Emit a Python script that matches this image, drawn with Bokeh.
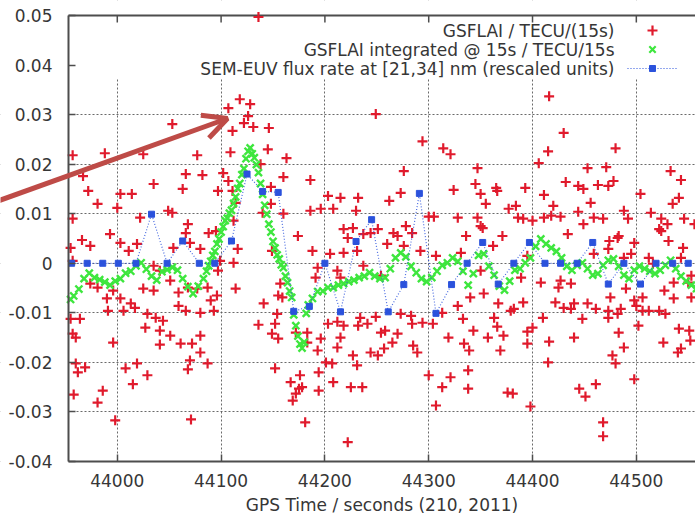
from bokeh.plotting import figure
from bokeh.models import (SingleIntervalTicker, CustomJSTickFormatter,
                          BoxAnnotation, Label, Arrow, OpenHead)
from bokeh.embed import file_html
from bokeh.resources import INLINE

# ---------------------------------------------------------------------------
# Data: GPS time (s of day 210, 2011) and values
# ---------------------------------------------------------------------------

# SEM-EUV flux rate at [21,34] nm (rescaled units), 15 s cadence
sem_t = [43956, 43971, 43986, 44001, 44018, 44033, 44048, 44063, 44079, 44094,
         44110, 44125, 44140, 44155, 44170, 44185, 44200, 44215, 44230, 44245,
         44261, 44276, 44291, 44307, 44322, 44337, 44352, 44367, 44382, 44397,
         44412, 44427, 44443, 44458, 44473, 44488, 44504, 44519, 44535, 44550]
sem_v = [0.0, 0.0, 0.0, 0.0, 0.0, 0.0099, 0.0, 0.0045, 0.0, 0.0,
         0.0045, 0.0180, 0.0145, 0.0143, -0.0097, -0.0087, 0.0, -0.0098, 0.0044, 0.0088,
         -0.0098, -0.0043, 0.0141, -0.0101, -0.0043, 0.0, 0.0042, -0.0042, 0.0, 0.0042,
         0.0, 0.0, 0.0, 0.0042, -0.0042, 0.0, -0.0042, 0.0, 0.0, 0.0]

# GSFLAI integrated @ 15 s / TECU/15s
gsf_int_t = [43955, 43958, 43963, 43968, 43973, 43978, 43983, 43988, 43993, 43998,
             44003, 44008, 44013, 44018, 44023, 44028, 44033, 44038, 44043, 44048,
             44053, 44058, 44063, 44068, 44073, 44078, 44083,
             44086, 44088, 44090, 44092, 44094, 44096, 44098, 44100, 44102, 44104,
             44106, 44108, 44110, 44112, 44114, 44116, 44118, 44120, 44122, 44124,
             44126, 44128, 44130, 44132, 44134, 44136, 44138, 44140, 44142, 44144,
             44146, 44148, 44150, 44152, 44154, 44156, 44158, 44160, 44162, 44164,
             44166, 44168, 44170, 44172, 44174, 44176, 44178, 44180, 44182, 44184,
             44188, 44193, 44198, 44203, 44208, 44213, 44218, 44223, 44228, 44233,
             44238, 44243, 44248, 44253, 44258, 44263, 44268, 44273, 44278, 44283,
             44288, 44293, 44298, 44303, 44308, 44313, 44318, 44323, 44328, 44333,
             44338, 44343, 44348, 44353, 44358, 44363, 44368, 44373, 44378, 44383,
             44388, 44393, 44398, 44403, 44408, 44413, 44418, 44423, 44428, 44433,
             44438, 44443, 44448, 44453, 44458, 44463, 44468, 44473, 44478, 44483,
             44488, 44493, 44498, 44503, 44508, 44513, 44518, 44523, 44528, 44533,
             44538, 44543, 44548, 44553, 44558]
gsf_int_v = [-0.0073, -0.0066, -0.0052, -0.0031, -0.0020, -0.0029, -0.0033, -0.0038, -0.0044, -0.0036,
             -0.0031, -0.0020, -0.0016, -0.0005, 0.0001, -0.0012, -0.0026, -0.0034, -0.0017, -0.0013,
             -0.0008, -0.0014, -0.0031, -0.0047, -0.0061, -0.0046, -0.0031,
             -0.0016, -0.0005, 0.0004, 0.0016, 0.0024, 0.0039, 0.0049, 0.0063, 0.0074, 0.0086,
             0.0091, 0.0101, 0.0107, 0.0121, 0.0134, 0.0151, 0.0161, 0.0179, 0.0191, 0.0211,
             0.0226, 0.0233, 0.0221, 0.0213, 0.0199, 0.0183, 0.0161, 0.0139, 0.0117, 0.0099,
             0.0079, 0.0063, 0.0044, 0.0031, 0.0017, 0.0009, -0.0003, -0.0009, -0.0026, -0.0039,
             -0.0056, -0.0069, -0.0104, -0.0126, -0.0147, -0.0163, -0.0171, -0.0159, -0.0101, -0.0084,
             -0.0071, -0.0057, -0.0056, -0.0049, -0.0049, -0.0044, -0.0041, -0.0037, -0.0034, -0.0029,
             -0.0026, -0.0019, -0.0026, -0.0031, -0.0029, -0.0011, 0.0011, 0.0021, 0.0013, -0.0006,
             -0.0019, -0.0031, -0.0037, -0.0029, -0.0016, -0.0004, 0.0001, 0.0011, 0.0004, -0.0016,
             -0.0044, -0.0021, 0.0016, 0.0019, -0.0006, -0.0024, -0.0046, -0.0054, -0.0036, -0.0014,
             -0.0011, 0.0001, 0.0011, 0.0034, 0.0049, 0.0039, 0.0031, 0.0024, 0.0011, -0.0006,
             -0.0014, -0.0004, 0.0001, -0.0011, -0.0024, -0.0021, -0.0004, 0.0006, 0.0009, -0.0006,
             -0.0024, -0.0031, -0.0014, -0.0006, -0.0011, -0.0016, -0.0021, -0.0014, -0.0004, 0.0006,
             -0.0011, -0.0026, -0.0036, -0.0044, -0.0051]

# GSFLAI / TECU/(15s), grouped by time span
gsf_early_t = [43957, 43967, 43988, 44025, 44053, 44066, 44077, 44082, 44102, 44107,
               44109, 44111, 44107, 44097, 44035, 44063, 43972, 43981, 43957, 43966,
               43974, 43993, 44000, 44003, 44014, 44003, 44011, 44019, 44022, 44049,
               44053, 44054, 44066, 44070, 44068, 44080, 44088, 44095, 44112, 44114,
               44111, 44116, 44099, 44097, 43957, 43981, 43974, 43990, 43996, 44003,
               44013, 44025, 44035, 44041, 44035, 44051, 44059, 44068, 44077, 44087,
               44090, 44096, 43955, 43964, 43991, 44006, 44017, 44029, 44037, 44044,
               44059, 44066, 44080, 44093, 43957, 43960, 43996, 44027, 44041, 44041,
               44051, 44061, 44080, 44072, 43955, 44080, 43960, 43962, 43969, 44008,
               44019, 44029, 44015, 44068, 44070, 44087, 43958, 43986, 43981, 43998,
               44071]
gsf_early_v = [0.0218, 0.0176, 0.0222, 0.0220, 0.0281, 0.0180, 0.0218, 0.0178, 0.0182, 0.0313,
               0.0224, 0.0267, 0.0166, 0.0146, 0.0160, 0.0150, 0.0146, 0.0120, 0.0090, 0.0047,
               0.0035, 0.0059, 0.0112, 0.0140, 0.0140, 0.0041, 0.0025, 0.0039, 0.0092, 0.0106,
               0.0102, 0.0031, 0.0061, 0.0041, 0.0079, 0.0029, 0.0061, 0.0065, 0.0086, 0.0122,
               0.0146, 0.0029, 0.0005, -0.0015, 0.0005, -0.0049, -0.0041, -0.0071, -0.0055, -0.0071,
               -0.0081, -0.0051, -0.0055, -0.0015, -0.0005, -0.0035, -0.0059, -0.0049, -0.0051, -0.0049,
               -0.0075, -0.0065, -0.0112, -0.0112, -0.0096, -0.0096, -0.0090, -0.0102, -0.0110, -0.0116,
               -0.0086, -0.0096, -0.0100, -0.0096, -0.0142, -0.0150, -0.0160, -0.0130, -0.0136, -0.0164,
               -0.0146, -0.0162, -0.0146, -0.0162, 0.0031, -0.0180, -0.0202, -0.0220, -0.0210, -0.0212,
               -0.0202, -0.0226, -0.0244, -0.0214, -0.0196, -0.0202, -0.0265, -0.0257, -0.0281, -0.0317,
               -0.0315]

gsf_flare_t = [44118, 44128, 44126, 44122, 44131, 44146, 44145, 44163, 44160, 44186,
               44138, 44148, 44136, 44249, 44294, 44314, 44321, 44276, 44324, 44203,
               44215, 44232, 44196, 44208, 44230, 44262, 44273, 44300, 44305, 44328,
               44160, 44140, 44148, 44174, 44188, 44218, 44227, 44222, 44231, 44237,
               44244, 44251, 44266, 44270, 44278, 44284, 44260, 44276, 44292, 44307,
               44331, 44218, 44193, 44205, 44112, 44114, 44157, 44159, 44191, 44212,
               44215, 44237, 44254, 44186, 44149]
gsf_flare_v = [0.0331, 0.0321, 0.0297, 0.0283, 0.0275, 0.0273, 0.0230, 0.0212, 0.0174, 0.0168,
               0.0200, 0.0154, 0.0497, 0.0301, 0.0246, 0.0232, 0.0220, 0.0186, 0.0148, 0.0136,
               0.0132, 0.0132, 0.0110, 0.0110, 0.0106, 0.0126, 0.0142, 0.0094, 0.0094, 0.0092,
               0.0100, 0.0102, 0.0120, 0.0055, 0.0025, 0.0069, 0.0071, 0.0051, 0.0025, 0.0059,
               0.0061, 0.0069, 0.0061, 0.0055, 0.0075, 0.0061, 0.0039, 0.0035, 0.0025, 0.0015,
               0.0021, 0.0021, -0.0009, 0.0019, 0.0001, -0.0051, -0.0041, -0.0069, -0.0029, -0.0015,
               -0.0029, -0.0005, -0.0025, 0.0106, 0.0025]

gsf_dip_t = [44155, 44141, 44154, 44136, 44152, 44149, 44155, 44172, 44183, 44196,
             44193, 44203, 44212, 44218, 44234, 44232, 44241, 44249, 44254, 44258,
             44270, 44265, 44273, 44283, 44284, 44294, 44304, 44313, 44319, 44328,
             44334, 44215, 44212, 44227, 44231, 44244, 44251, 44257, 44285, 44289,
             44183, 44152, 44176, 44201, 44207, 44194, 44167, 44175, 44178, 44172,
             44169, 44194, 44208, 44225, 44236, 44181, 44222, 44300, 44313, 44307,
             44321, 44338, 44338]
gsf_dip_v = [-0.0065, -0.0081, -0.0102, -0.0124, -0.0122, -0.0142, -0.0152, -0.0140, -0.0160, -0.0152,
             -0.0176, -0.0122, -0.0118, -0.0126, -0.0110, -0.0126, -0.0122, -0.0108, -0.0140, -0.0136,
             -0.0142, -0.0160, -0.0102, -0.0106, -0.0122, -0.0120, -0.0122, -0.0100, -0.0150, -0.0086,
             -0.0162, -0.0150, -0.0170, -0.0186, -0.0206, -0.0180, -0.0186, -0.0172, -0.0166, -0.0180,
             -0.0140, -0.0212, -0.0226, -0.0200, -0.0202, -0.0220, -0.0240, -0.0253, -0.0250, -0.0263,
             -0.0277, -0.0257, -0.0240, -0.0250, -0.0250, -0.0321, -0.0361, -0.0226, -0.0250, -0.0287,
             -0.0230, -0.0216, -0.0253]

gsf_late_t = [44416, 44430, 44415, 44406, 44453, 44347, 44432, 44444, 44449, 44463,
              44345, 44350, 44365, 44366, 44393, 44355, 44411, 44420, 44456, 44377,
              44384, 44386, 44391, 44411, 44418, 44427, 44444, 44449, 44459, 44347,
              44350, 44336, 44352, 44371, 44400, 44434, 44362, 44395, 44459, 44408,
              44427, 44425, 44437, 44389, 44350, 44367, 44353, 44391, 44379, 44422,
              44430, 44437, 44453, 44461, 44340, 44363, 44448, 44410, 44382, 44440,
              44333, 44366, 44343, 44372, 44395, 44400, 44395, 44339, 44357, 44369,
              44416, 44440, 44415, 44376, 44381, 44445, 44451, 44461, 44398]
gsf_late_v = [0.0337, 0.0263, 0.0226, 0.0202, 0.0192, 0.0192, 0.0164, 0.0156, 0.0150, 0.0158,
              0.0160, 0.0140, 0.0152, 0.0146, 0.0152, 0.0120, 0.0138, 0.0116, 0.0122, 0.0110,
              0.0116, 0.0092, 0.0090, 0.0092, 0.0096, 0.0094, 0.0104, 0.0079, 0.0092, 0.0092,
              0.0075, 0.0055, 0.0071, 0.0055, 0.0086, 0.0059, 0.0035, 0.0015, 0.0019, -0.0039,
              -0.0035, -0.0049, -0.0041, -0.0029, -0.0015, -0.0081, -0.0061, -0.0079, -0.0096, -0.0079,
              -0.0090, -0.0092, -0.0081, -0.0092, -0.0069, -0.0110, -0.0112, -0.0110, -0.0092, -0.0081,
              -0.0112, -0.0128, -0.0136, -0.0146, -0.0138, -0.0130, -0.0162, -0.0176, -0.0150, -0.0176,
              -0.0158, -0.0150, -0.0200, -0.0261, -0.0263, -0.0253, -0.0269, -0.0244, -0.0289]

gsf_end_t = [44480, 44471, 44473, 44478, 44504, 44541, 44535, 44533, 44543, 44488,
             44492, 44514, 44524, 44530, 44546, 44556, 44482, 44498, 44531, 44524,
             44473, 44488, 44545, 44498, 44512, 44527, 44536, 44550, 44473, 44468,
             44522, 44483, 44474, 44495, 44512, 44543, 44516, 44553, 44536, 44475,
             44490, 44506, 44553, 44485, 44500, 44522, 44528, 44473, 44502, 44541,
             44551, 44483, 44488, 44526, 44543, 44552, 44540, 44477, 44480, 44498,
             44468, 44468, 44482, 44506]
gsf_end_v = [0.0232, 0.0194, 0.0156, 0.0166, 0.0140, 0.0132, 0.0120, 0.0186, 0.0168, 0.0106,
             0.0090, 0.0102, 0.0090, 0.0079, 0.0090, 0.0079, 0.0051, 0.0041, 0.0045, 0.0065,
             0.0029, 0.0011, 0.0031, -0.0075, -0.0096, -0.0055, -0.0071, -0.0039, -0.0096, 0.0090,
             0.0069, 0.0055, 0.0045, 0.0019, 0.0011, 0.0011, -0.0001, -0.0025, -0.0039, -0.0069,
             -0.0051, -0.0069, -0.0069, -0.0092, -0.0086, -0.0096, -0.0102, -0.0110, -0.0126, -0.0132,
             -0.0136, -0.0140, -0.0170, -0.0160, -0.0172, -0.0156, -0.0180, -0.0186, -0.0202, -0.0234,
             -0.0321, -0.0349, -0.0102, -0.0096]

legend_labels = ["GSFLAI / TECU/(15s)",
                 "GSFLAI integrated @ 15s / TECU/15s",
                 "SEM-EUV flux rate at [21,34] nm (rescaled units)"]
x_title = "GPS Time / seconds (210, 2011)"

# ---------------------------------------------------------------------------
# Figure geometry: the frame covers the whole canvas so the pointer arrow and
# the tick labels are never clipped; both axes sit at fixed data positions.
# ---------------------------------------------------------------------------
T0, T1 = 43953, 44557          # visible time span of the plot box
V0, V1 = -0.04, 0.05           # value span of the plot box
W, H = 695, 517
BOX_L, BOX_T, BOX_B = 68, 15, 461   # plot box edges on the canvas (px)
PX_PER_S = (W - BOX_L) / (T1 - T0)
PX_PER_V = (BOX_B - BOX_T) / (V1 - V0)
X_START = T0 - BOX_L / PX_PER_S
X_END = T1
Y_START = V0 - (H - BOX_B) / PX_PER_V
Y_END = V1 + BOX_T / PX_PER_V

FONT = "DejaVu Sans"
TXT = "#363636"
AX = "#4d4d4d"
RED, GREEN, BLUE = "#e01a2c", "#3ee63e", "#2b52dc"
ARROW_C = "#be4b47"

p = figure(width=W, height=H, x_range=(X_START, X_END), y_range=(Y_START, Y_END),
           output_backend="svg", toolbar_location=None,
           min_border=0, min_border_left=0, min_border_right=0,
           min_border_top=0, min_border_bottom=0,
           background_fill_color="white", border_fill_color="white")
p.outline_line_color = None


def sx(px):
    return X_START + px / PX_PER_S


def sy(py):
    return V1 - (py - BOX_T) / PX_PER_V


xt = SingleIntervalTicker(interval=100)
yt = SingleIntervalTicker(interval=0.01)
fmt_y = CustomJSTickFormatter(code="return (Math.round(tick*100)/100).toString();")

for ax in (p.xaxis[0], p.yaxis[0]):
    ax.axis_line_color = AX
    ax.axis_line_width = 2
    ax.major_tick_line_color = AX
    ax.major_tick_line_width = 1.5
    ax.major_tick_in = 7
    ax.major_tick_out = 0
    ax.minor_tick_line_color = None
    ax.major_label_text_font = FONT
    ax.major_label_text_font_size = "17px"
    ax.major_label_text_color = TXT

p.xaxis[0].ticker = xt
p.xaxis[0].bounds = (T0, T1 + 10)
p.xaxis[0].fixed_location = V0
p.xaxis[0].major_label_standoff = 8
p.xaxis[0].axis_label = x_title
p.xaxis[0].axis_label_text_font = FONT
p.xaxis[0].axis_label_text_font_size = "17px"
p.xaxis[0].axis_label_text_font_style = "normal"
p.xaxis[0].axis_label_text_color = TXT
p.xaxis[0].axis_label_standoff = 5

p.yaxis[0].ticker = yt
p.yaxis[0].formatter = fmt_y
p.yaxis[0].bounds = (V0, V1)
p.yaxis[0].fixed_location = T0
p.yaxis[0].major_label_standoff = 12

# dashed grid
for g, t in ((p.xgrid[0], xt), (p.ygrid[0], yt)):
    g.ticker = t
    g.grid_line_color = "#5a5a5a"
    g.grid_line_dash = "2 2"
    g.grid_line_width = 1
    g.grid_line_alpha = 0.9
p.xgrid[0].bounds = (T0, T1 + 50)
p.ygrid[0].bounds = (-0.045, 0.035)

# keep the grid inside the plot box and out of the key area
for box in (BoxAnnotation(right=T0), BoxAnnotation(top=V0),
            BoxAnnotation(bottom=0.0372)):
    box.fill_color = "white"
    box.fill_alpha = 1.0
    box.line_color = None
    box.level = "underlay"
    p.add_layout(box)

# top border of the box with inward ticks
top_ticks = list(range(44000, T1, 100))
tick_len = 7 / PX_PER_V
p.segment(x0=[T0], y0=[V1], x1=[X_END + 5], y1=[V1], line_color=AX, line_width=2)
p.segment(x0=top_ticks, y0=[V1] * len(top_ticks), x1=top_ticks,
          y1=[V1 - tick_len] * len(top_ticks), line_color=AX, line_width=1.5)

# ---------------------------------------------------------------------------
# Series
# ---------------------------------------------------------------------------
red_t = gsf_early_t + gsf_flare_t + gsf_dip_t + gsf_late_t + gsf_end_t
red_v = gsf_early_v + gsf_flare_v + gsf_dip_v + gsf_late_v + gsf_end_v
p.scatter(red_t, red_v, marker="cross", size=10, line_width=2.2, line_color=RED)

p.scatter(gsf_int_t, gsf_int_v, marker="x", size=10, line_width=2.4, line_color=GREEN)

p.line(sem_t, sem_v, line_color=BLUE, line_width=1.2, line_dash="1 2", line_alpha=0.85)
p.scatter(sem_t, sem_v, marker="square", size=6, fill_color=BLUE, line_color=BLUE)

# ---------------------------------------------------------------------------
# Key (text then sample, right aligned)
# ---------------------------------------------------------------------------
key_rows = [30, 49, 68]
for lab, row in zip(legend_labels, key_rows):
    p.add_layout(Label(x=sx(614), y=sy(row), text=lab, text_align="right",
                       text_baseline="middle", text_font=FONT,
                       text_font_size="17px", text_color=TXT))

p.scatter([sx(652)], [sy(key_rows[0])], marker="cross", size=10, line_width=2.2,
          line_color=RED)
p.scatter([sx(652)], [sy(key_rows[1])], marker="x", size=9, line_width=2.2,
          line_color=GREEN)
p.line([sx(627), sx(677)], [sy(key_rows[2])] * 2, line_color=BLUE, line_width=1.2,
       line_dash="1 2")
p.scatter([sx(652)], [sy(key_rows[2])], marker="square", size=6, fill_color=BLUE,
          line_color=BLUE)

# pointer to the flare peak
p.add_layout(Arrow(x_start=sx(-4), y_start=sy(201), x_end=sx(227), y_end=sy(118),
                   line_color=ARROW_C, line_width=5,
                   end=OpenHead(size=24, line_width=5, line_color=ARROW_C)))

open("out.html", "w").write(file_html(p, INLINE))
